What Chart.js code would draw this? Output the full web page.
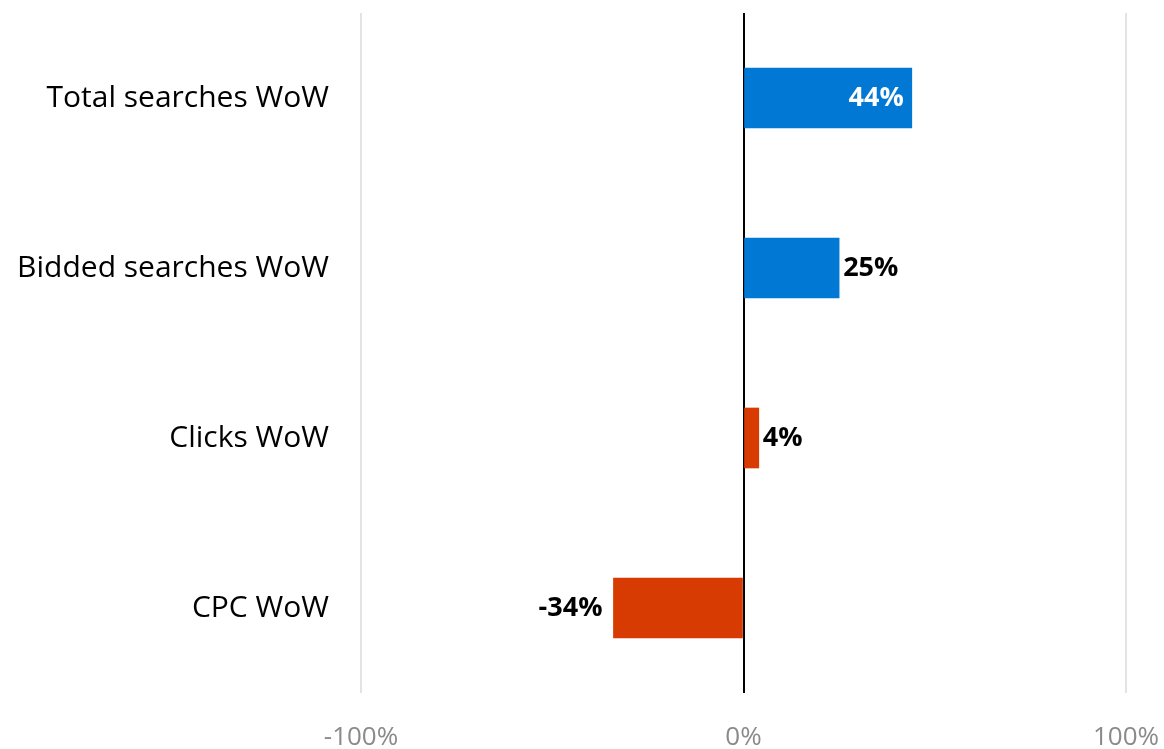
<!DOCTYPE html>
<html>
<head>
<meta charset="utf-8">
<script src="https://cdn.jsdelivr.net/npm/chart.js@4"></script>
<style>
  html, body { margin: 0; padding: 0; background: #fff; }
  #wrap { width: 1164px; height: 749px; }
</style>
</head>
<body>
<div id="wrap"><canvas id="wowChart"></canvas></div>
<script>
const categories = ['Total searches WoW', 'Bidded searches WoW', 'Clicks WoW', 'CPC WoW'];
const changes = [44, 25, 4, -34];
const barColors = ['#0078D4', '#0078D4', '#D83B01', '#D83B01'];
const tickValues = [-100, 0, 100];

const FONT = '"Open Sans", "Noto Sans", sans-serif';

// draws the % labels next to / inside the bars
const valueLabels = {
  id: 'valueLabels',
  afterDatasetsDraw(chart) {
    const ctx = chart.ctx;
    const meta = chart.getDatasetMeta(0);
    ctx.save();
    ctx.font = 'bold 27px ' + FONT;
    ctx.textBaseline = 'middle';
    meta.data.forEach((bar, i) => {
      const v = changes[i];
      const txt = v + '%';
      if (i === 0) {
        ctx.fillStyle = '#fff';
        ctx.textAlign = 'right';
        ctx.fillText(txt, bar.x - 8, bar.y);
      } else if (v >= 0) {
        ctx.fillStyle = '#000';
        ctx.textAlign = 'left';
        ctx.fillText(txt, bar.x + 4, bar.y);
      } else {
        ctx.fillStyle = '#000';
        ctx.textAlign = 'right';
        ctx.fillText(txt, bar.x - 11, bar.y);
      }
    });
    ctx.restore();
  }
};

new Chart(document.getElementById('wowChart').getContext('2d'), {
  type: 'bar',
  data: {
    labels: categories,
    datasets: [{
      data: changes,
      backgroundColor: barColors,
      barThickness: 60
    }]
  },
  options: {
    indexAxis: 'y',
    responsive: true,
    maintainAspectRatio: false,
    animation: false,
    layout: { padding: { top: 13, right: 38, left: 0, bottom: 0 } },
    plugins: {
      legend: { display: false },
      tooltip: { enabled: false }
    },
    scales: {
      x: {
        min: -100,
        max: 100,
        afterBuildTicks: (scale) => {
          scale.ticks = tickValues.map(v => ({ value: v }));
        },
        afterFit: (scale) => {
          scale.height = 56;
          scale.paddingLeft = 0;
          scale.paddingRight = 0;
        },
        border: { display: false },
        grid: {
          drawTicks: false,
          color: (c) => c.tick && c.tick.value === 0 ? '#000' : '#e3e3e3',
          lineWidth: 2
        },
        ticks: {
          padding: 29,
          color: '#8a8a8a',
          font: { family: FONT, size: 26 },
          callback: (v) => v + '%'
        }
      },
      y: {
        afterFit: (scale) => {
          scale.width = 361;
          scale.paddingTop = 0;
          scale.paddingBottom = 0;
        },
        border: { display: false },
        grid: { display: false, drawTicks: false },
        ticks: {
          padding: 32,
          color: '#000',
          font: { family: FONT, size: 30 }
        }
      }
    }
  },
  plugins: [valueLabels]
});
</script>
</body>
</html>
